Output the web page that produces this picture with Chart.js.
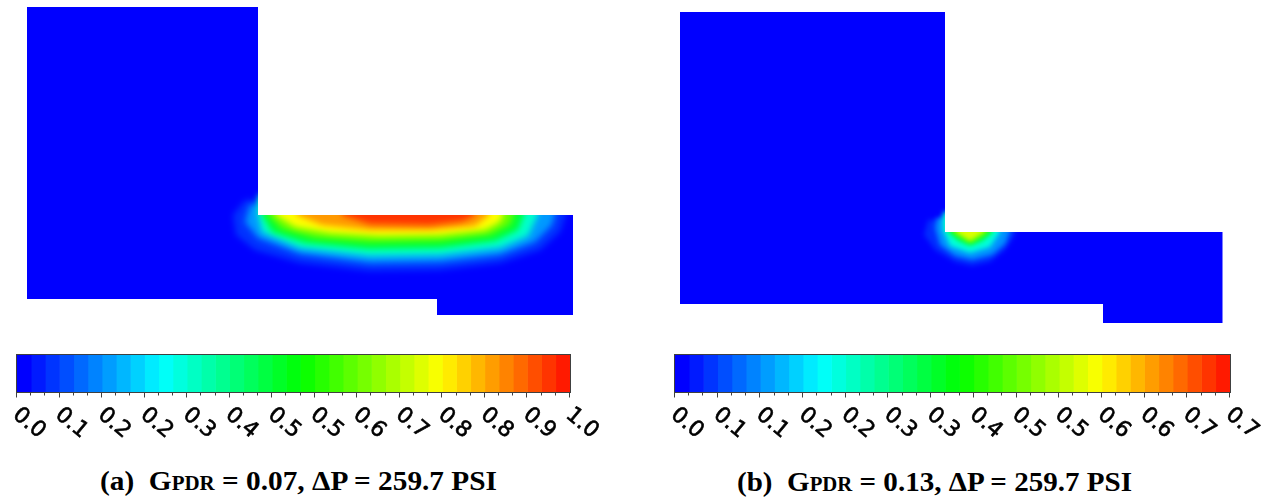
<!DOCTYPE html>
<html>
<head>
<meta charset="utf-8">
<script src="https://cdn.jsdelivr.net/npm/chart.js@4.4.0/dist/chart.umd.min.js"></script>
<style>
  html, body { margin: 0; padding: 0; background: #fff; }
  body { width: 1265px; height: 503px; position: relative; overflow: hidden; }
  canvas { position: absolute; }
  .cap {
    position: absolute;
    font-family: "Liberation Serif", "Times New Roman", serif;
    font-weight: bold;
    font-size: 28px;
    line-height: 1;
    white-space: pre;
    transform-origin: 0 0;
    color: #000;
  }
  .cap small { font-size: 20px; }
</style>
</head>
<body>
<canvas id="fieldA" width="546" height="308" style="left:27px;top:7px"></canvas>
<canvas id="fieldB" width="543" height="311" style="left:680px;top:12px"></canvas>
<canvas id="barA" width="620" height="100" style="left:0px;top:345px"></canvas>
<canvas id="barB" width="605" height="100" style="left:660px;top:345px"></canvas>
<div class="cap" id="capA" style="left:100px;top:467px">(a)  G<small>PDR</small> = 0.07, ΔP = 259.7 PSI</div>
<div class="cap" id="capB" style="left:737px;top:468px">(b)  G<small>PDR</small> = 0.13, ΔP = 259.7 PSI</div>

<script>
// ---- geometry (units: 1 = 10 px of the original figure) ----
const outlineAX = [0, 23.1, 23.1, 54.6, 54.6, 41.0, 41.0, 0];
const outlineAY = [29.2, 29.2, 8.4, 8.4, -1.6, -1.6, 0, 0];
const outlineBX = [0, 26.5, 26.5, 54.25, 54.25, 42.3, 42.3, 0];
const outlineBY = [29.2, 29.2, 7.2, 7.2, -1.9, -1.9, 0, 0];

const levelsA = [0.05, 0.15, 0.3, 0.45, 0.6, 0.75, 0.85, 0.95];
const contourAX = [
  [21.8, 20.6, 20.9, 22.8, 27.3, 34.3, 41.3, 47.3, 51.3, 53.3, 53.9, 53.9],
  [22.3, 21.8, 23.1, 27.3, 34.3, 41.3, 47.3, 50.8, 52.5, 52.8, 52.8],
  [23.1, 23.1, 23.5, 27.3, 34.3, 41.3, 47.3, 50.1, 51.1, 51.1],
  [23.5, 23.5, 24.5, 27.8, 34.3, 41.3, 46.8, 49.1, 49.7, 49.7],
  [24.1, 24.1, 25.5, 28.8, 34.3, 41.3, 46.3, 48.3, 48.7, 48.7],
  [24.9, 24.9, 26.8, 30.3, 35.3, 41.3, 45.8, 47.3, 47.6, 47.6],
  [27.0, 27.0, 29.5, 34.3, 40.3, 44.8, 46.2, 46.2],
  [31.5, 31.5, 34.3, 40.3, 43.6, 44.8, 44.8]
];
const contourAY = [
  [9.9, 8.4, 6.4, 4.9, 3.6, 2.8, 2.9, 3.6, 4.9, 6.7, 8.4, 10.4],
  [9.4, 7.7, 6.1, 4.5, 3.6, 3.7, 4.4, 5.7, 7.4, 8.4, 10.4],
  [10.4, 8.4, 6.7, 5.1, 4.3, 4.4, 5.1, 6.3, 8.4, 10.4],
  [10.4, 8.4, 6.7, 5.6, 5.0, 5.1, 5.8, 6.9, 8.4, 10.4],
  [10.4, 8.4, 7.0, 6.1, 5.7, 5.8, 6.4, 7.4, 8.4, 10.4],
  [10.4, 8.4, 7.2, 6.6, 6.3, 6.4, 6.9, 7.7, 8.4, 10.4],
  [10.4, 8.4, 7.4, 6.9, 6.9, 7.3, 8.4, 10.4],
  [10.4, 8.4, 7.5, 7.4, 7.8, 8.4, 10.4]
];

const levelsB = [0.03, 0.1, 0.2, 0.3, 0.4, 0.5];
const contourBX = [
  [24.8, 24.4, 25.5, 27.5, 29.2, 31.0, 32.5, 33.3, 33.6, 33.6],
  [25.7, 25.5, 26.0, 27.5, 29.2, 31.2, 32.5, 33.0, 33.0],
  [26.3, 26.3, 27.0, 29.0, 31.0, 32.0, 32.0],
  [26.8, 26.8, 27.8, 29.0, 30.3, 31.3, 31.3],
  [27.2, 27.2, 28.2, 29.0, 29.9, 30.9, 30.9],
  [27.6, 27.6, 29.0, 30.4, 30.4]
];
const contourBY = [
  [8.4, 6.9, 5.4, 4.2, 3.8, 4.2, 5.4, 6.6, 7.2, 9.2],
  [8.6, 7.6, 5.9, 4.8, 4.4, 4.9, 6.0, 7.2, 9.2],
  [9.2, 7.4, 5.8, 5.1, 5.7, 7.2, 9.2],
  [9.2, 7.2, 6.3, 5.8, 6.3, 7.2, 9.2],
  [9.2, 7.2, 6.6, 6.1, 6.6, 7.2, 9.2],
  [9.2, 7.2, 6.3, 7.2, 9.2]
];

// ---- colour bars ----
const rangeA = [0, 1.0];
const rangeB = [0, 0.7];
const ticksA = ['0.0','0.1','0.2','0.2','0.3','0.4','0.5','0.5','0.6','0.7','0.8','0.8','0.9','1.0'];
const ticksB = ['0.0','0.1','0.1','0.2','0.2','0.3','0.3','0.4','0.5','0.5','0.6','0.6','0.7','0.7'];
const BANDS = 39;

// blue - cyan - green - yellow - red
function rainbow(t) {
  t = Math.max(0, Math.min(1, t));
  let r, g, b;
  if (t < 0.25) { r = 0; g = 255 * t / 0.25; b = 255; }
  else if (t < 0.5) { r = 0; g = 255; b = 255 * (1 - (t - 0.25) / 0.25); }
  else if (t < 0.75) { r = 255 * (t - 0.5) / 0.25; g = 255; b = 0; }
  else { r = 255; g = 255 * (1 - (t - 0.75) / 0.25); b = 0; }
  return `rgb(${Math.round(r)},${Math.round(g)},${Math.round(b)})`;
}

const toPoints = (xs, ys) => xs.map((x, i) => ({x: x, y: ys[i]}));

// after the domain is filled, clip to it and soften the contour bands
const softField = {
  id: 'softField',
  afterDatasetDraw(chart, args, opts) {
    if (args.index !== 0) return;
    const ctx = chart.ctx;
    ctx.save();
    ctx.beginPath();
    args.meta.data.forEach((p, i) => i ? ctx.lineTo(p.x, p.y) : ctx.moveTo(p.x, p.y));
    ctx.closePath();
    ctx.clip();
    ctx.filter = `blur(${opts.blur}px)`;
  },
  afterDatasetsDraw(chart) {
    chart.ctx.restore();
  }
};

function fieldChart(id, ox, oy, levels, cx, cy, vmax, xmax, ymin, ymax, blur) {
  const datasets = [{
    data: toPoints(ox, oy),
    fill: 'shape',
    backgroundColor: 'rgb(0,0,255)',
    borderColor: 'rgba(0,0,0,0)',
    borderWidth: 0,
    pointRadius: 0,
    order: 100
  }];
  levels.forEach((lv, i) => {
    datasets.push({
      data: toPoints(cx[i], cy[i]),
      fill: 'shape',
      backgroundColor: rainbow(lv / vmax),
      borderColor: 'rgba(0,0,0,0)',
      borderWidth: 0,
      pointRadius: 0,
      order: 50 - i
    });
  });
  return new Chart(document.getElementById(id), {
    type: 'line',
    data: {datasets: datasets},
    options: {
      responsive: false,
      animation: false,
      events: [],
      layout: {padding: 0},
      scales: {
        x: {type: 'linear', min: 0, max: xmax, display: false},
        y: {type: 'linear', min: ymin, max: ymax, display: false}
      },
      plugins: {
        legend: {display: false},
        tooltip: {enabled: false},
        softField: {blur: blur}
      }
    },
    plugins: [softField]
  });
}

// frame, tick marks and slanted labels under the colour bar
const barAxis = {
  id: 'barAxis',
  afterDatasetsDraw(chart, args, opts) {
    const {ctx, chartArea: a} = chart;
    const x = chart.scales.x;
    const per = BANDS / (opts.labels.length - 1);
    ctx.save();
    ctx.strokeStyle = '#404040';
    ctx.lineWidth = 1;
    ctx.strokeRect(a.left - 0.5, a.top - 0.5, a.right - a.left + 1, a.bottom - a.top + 1);
    for (let k = 0; k <= BANDS; k++) {
      const px = Math.round(x.getPixelForValue(opts.max * k / BANDS)) - 0.5;
      const major = k % per === 0;
      ctx.beginPath();
      ctx.moveTo(px, a.bottom);
      ctx.lineTo(px, a.bottom + (major ? 5.5 : 3.5));
      ctx.stroke();
    }
    // slanted labels, slightly heavier like the original raster text
    ctx.fillStyle = '#000';
    ctx.strokeStyle = '#000';
    ctx.lineWidth = 0.6;
    ctx.font = '22px "DejaVu Sans", sans-serif';
    ctx.textAlign = 'left';
    ctx.textBaseline = 'middle';
    opts.labels.forEach((lab, i) => {
      const px = x.getPixelForValue(opts.max * i / (opts.labels.length - 1));
      ctx.save();
      ctx.translate(px - 1.5, a.bottom + 20);
      ctx.rotate(40 * Math.PI / 180);
      ctx.fillText(lab, 0, 0);
      ctx.strokeText(lab, 0, 0);
      ctx.restore();
    });
    ctx.restore();
  }
};

function colourBar(id, range, labels, padding) {
  const datasets = [];
  for (let k = 0; k < BANDS; k++) {
    const lo = range[0] + (range[1] - range[0]) * k / BANDS;
    const hi = range[0] + (range[1] - range[0]) * (k + 1) / BANDS;
    datasets.push({
      data: [[lo, hi]],
      backgroundColor: rainbow(k / BANDS),
      borderWidth: 0,
      grouped: false,
      barPercentage: 1,
      categoryPercentage: 1
    });
  }
  return new Chart(document.getElementById(id), {
    type: 'bar',
    data: {labels: [''], datasets: datasets},
    options: {
      indexAxis: 'y',
      responsive: false,
      animation: false,
      events: [],
      layout: {padding: padding},
      scales: {
        x: {type: 'linear', min: range[0], max: range[1], display: false},
        y: {display: false}
      },
      plugins: {
        legend: {display: false},
        tooltip: {enabled: false},
        barAxis: {labels: labels, max: range[1]}
      }
    },
    plugins: [barAxis]
  });
}

fieldChart('fieldA', outlineAX, outlineAY, levelsA, contourAX, contourAY, rangeA[1], 54.6, -1.6, 29.2, 3);
fieldChart('fieldB', outlineBX, outlineBY, levelsB, contourBX, contourBY, rangeB[1], 54.3, -1.9, 29.2, 2.5);
colourBar('barA', rangeA, ticksA, {left: 17, right: 50, top: 10, bottom: 53});
colourBar('barB', rangeB, ticksB, {left: 15, right: 35, top: 10, bottom: 53});

// squeeze the captions to the width they have in the figure
function fitCaption(id, width) {
  const el = document.getElementById(id);
  const w = el.getBoundingClientRect().width;
  el.style.transform = `scaleX(${width / w})`;
}
fitCaption('capA', 397);
fitCaption('capB', 395);
</script>
</body>
</html>
